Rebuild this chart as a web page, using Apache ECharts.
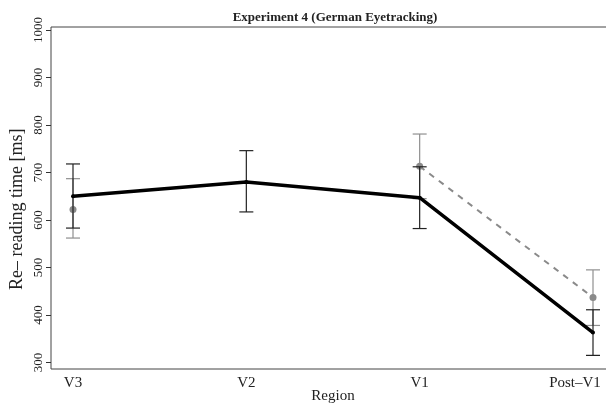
<!DOCTYPE html>
<html>
<head>
<meta charset="utf-8">
<script src="https://cdn.jsdelivr.net/npm/echarts@6/dist/echarts.min.js"></script>
<style>html,body{margin:0;padding:0;background:#fff}#c{width:606px;height:407px}</style>
</head>
<body>
<div id="c"></div>
<script>
// ---- data ----
var categories = ['V3', 'V2', 'V1', 'Post\u2013V1'];
var meanA = [650, 680, 647, 363];
var lowA  = [583, 617, 582, 315];
var highA = [718, 746, 712, 411];
var meanB = [622, null, 713, 437];
var lowB  = [562, null, 645, 378];
var highB = [687, null, 781, 495];
var yTicks = [300, 400, 500, 600, 700, 800, 900, 1000];

var FONT = '"Liberation Serif", "DejaVu Serif", serif';

function errData(lo, hi) {
  var out = [];
  for (var i = 0; i < lo.length; i++) {
    if (lo[i] != null && hi[i] != null) out.push([i, lo[i], hi[i]]);
  }
  return out;
}
function errRenderer(color, width, cap) {
  return function (params, api) {
    var x = api.value(0);
    var p1 = api.coord([x, api.value(1)]);
    var p2 = api.coord([x, api.value(2)]);
    var st = { stroke: color, lineWidth: width };
    return {
      type: 'group',
      children: [
        { type: 'line', shape: { x1: p1[0], y1: p1[1], x2: p2[0], y2: p2[1] }, style: st },
        { type: 'line', shape: { x1: p1[0] - cap, y1: p1[1], x2: p1[0] + cap, y2: p1[1] }, style: st },
        { type: 'line', shape: { x1: p2[0] - cap, y1: p2[1], x2: p2[0] + cap, y2: p2[1] }, style: st }
      ]
    };
  };
}

var chart = echarts.init(document.getElementById('c'), null, { renderer: 'canvas' });
chart.setOption({
  backgroundColor: '#fff',
  animation: false,
  title: {
    text: 'Experiment 4 (German Eyetracking)',
    left: 330, top: 6, textAlign: 'center',
    textStyle: { fontFamily: FONT, fontSize: 13, fontWeight: 'bold', color: '#222' }
  },
  grid: [
    { left: 51, right: -2, top: 27, bottom: 38, show: true, borderColor: '#444', borderWidth: 1,
      backgroundColor: 'transparent', containLabel: false, outerBoundsMode: 'none' },
    { left: 73, right: 13, top: 30, bottom: 44.5, containLabel: false, outerBoundsMode: 'none' }
  ],
  xAxis: [
    { gridIndex: 0, type: 'value', show: false, min: 0, max: 1 },
    {
      gridIndex: 1, type: 'category', data: categories, boundaryGap: false,
      axisLine: { show: false }, axisTick: { show: false }, splitLine: { show: false },
      axisLabel: {
        margin: 13, color: '#222', fontFamily: FONT, fontSize: 15, interval: 0,
        formatter: function (v, i) { return i === 3 ? '{p|' + v + '}' : v; },
        rich: { p: { fontFamily: FONT, fontSize: 15, color: '#222', padding: [0, 36, 0, 0] } }
      },
      name: 'Region', nameLocation: 'middle', nameGap: 26, nameMoveOverlap: false,
      nameTextStyle: { fontFamily: FONT, fontSize: 15, color: '#222' }
    }
  ],
  yAxis: [
    { gridIndex: 0, type: 'value', show: false, min: 0, max: 1 },
    {
      gridIndex: 1, type: 'value', min: 300, max: 1000, interval: 100, offset: 22,
      axisLine: { show: false },
      axisTick: { show: true, length: 5, lineStyle: { color: '#333', width: 1 } },
      splitLine: { show: false },
      axisLabel: {
        rotate: 90, margin: 6, color: '#222', fontFamily: FONT, fontSize: 13,
        formatter: function (v) { return String(v); }
      },
      name: 'Re\u2013 reading time [ms]', nameLocation: 'middle', nameGap: 25, nameMoveOverlap: false,
      nameTextStyle: { fontFamily: FONT, fontSize: 18, color: '#222', padding: [0, 26, 0, 0] }
    }
  ],
  series: [
    {
      type: 'custom', xAxisIndex: 1, yAxisIndex: 1, z: 2,
      renderItem: errRenderer('#8f8f8f', 1.2, 7),
      data: errData(lowB, highB)
    },
    {
      type: 'line', xAxisIndex: 1, yAxisIndex: 1, data: meanB, z: 3,
      connectNulls: false, symbol: 'circle', symbolSize: 7,
      itemStyle: { color: '#8a8a8a' },
      lineStyle: { color: '#8a8a8a', width: 2, type: [6, 6] }
    },
    {
      type: 'custom', xAxisIndex: 1, yAxisIndex: 1, z: 4,
      renderItem: errRenderer('#222', 1.2, 7),
      data: errData(lowA, highA)
    },
    {
      type: 'line', xAxisIndex: 1, yAxisIndex: 1, data: meanA, z: 5,
      symbol: 'circle', symbolSize: 4,
      itemStyle: { color: '#000' },
      lineStyle: { color: '#000', width: 3.5 }
    }
  ]
});
</script>
</body>
</html>
